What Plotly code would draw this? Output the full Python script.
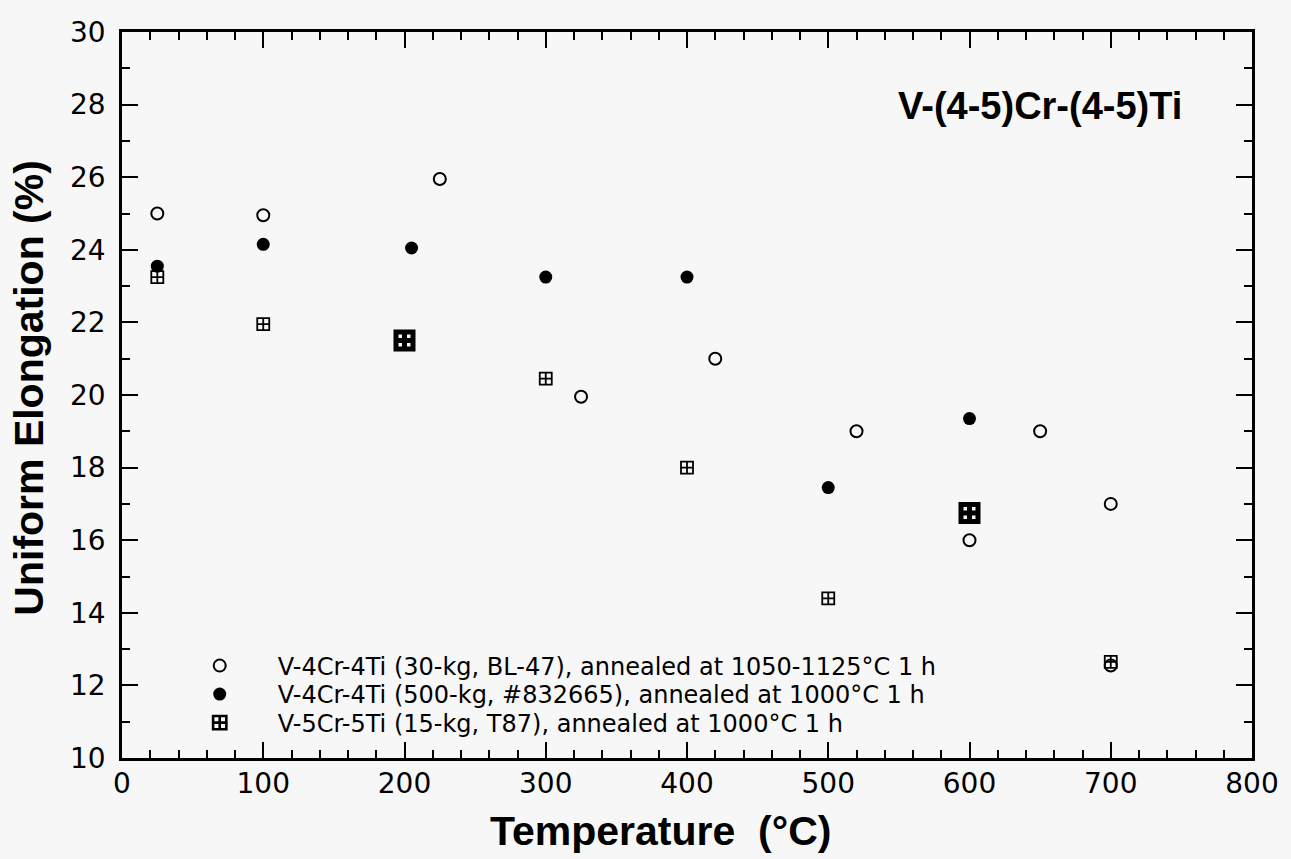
import plotly.graph_objects as go

# ---- data ----
bl47_temp = [25, 100, 225, 325, 420, 520, 600, 650, 700, 700]
bl47_ue = [25.0, 24.95, 25.95, 19.95, 21.0, 19.0, 16.0, 19.0, 17.0, 12.55]

h832665_temp = [25, 100, 205, 300, 400, 500, 600]
h832665_ue = [23.55, 24.15, 24.05, 23.25, 23.25, 17.45, 19.35]

t87_temp = [25, 100, 200, 300, 400, 500, 600, 700]
t87_ue = [23.25, 21.95, 21.5, 20.45, 18.0, 14.4, 16.75, 12.65]

series_names = [
    "V-4Cr-4Ti (30-kg, BL-47), annealed at 1050-1125°C 1 h",
    "V-4Cr-4Ti (500-kg, #832665), annealed at 1000°C 1 h",
    "V-5Cr-5Ti (15-kg, T87), annealed at 1000°C 1 h",
]
x_tick_vals = [0, 100, 200, 300, 400, 500, 600, 700, 800]
y_tick_vals = [10, 12, 14, 16, 18, 20, 22, 24, 26, 28, 30]
alloy_label = "V-(4-5)Cr-(4-5)Ti"
x_title = "Temperature\u00a0\u00a0(°C)"
y_title = "Uniform Elongation (%)"

# ---- styling (not data) ----
t87_line_widths = [1.8, 1.8, 5, 1.8, 1.8, 1.8, 5, 1.8]
t87_sizes = [12, 12, 17, 12, 12, 12, 17, 12]

BG = "#f7f7f7"
FONT = "Liberation Sans, Arial, Helvetica, sans-serif"
FONT_REG = "DejaVu Sans, Liberation Sans, sans-serif"

L, R, T, B = 122, 1260, 32, 758
PW, PH = R - L, B - T

fig = go.Figure()
fig.add_trace(go.Scatter(
    x=bl47_temp, y=bl47_ue, mode="markers", name=series_names[0],
    legend="legend",
    marker=dict(symbol="circle-open", size=12, color="black", opacity=1,
                line=dict(width=2, color="black")),
))
fig.add_trace(go.Scatter(
    x=h832665_temp, y=h832665_ue, mode="markers", name=series_names[1],
    legend="legend2",
    marker=dict(symbol="circle", size=13, color="black", opacity=1,
                line=dict(width=0)),
))
fig.add_trace(go.Scatter(
    x=t87_temp, y=t87_ue, mode="markers", name=series_names[2],
    legend="legend3",
    marker=dict(symbol="square-cross-open", size=t87_sizes, color="black", opacity=1,
                line=dict(width=t87_line_widths, color="black")),
))

axis_common = dict(
    showline=True, linecolor="black", linewidth=2.5, mirror="allticks",
    ticks="inside", tickcolor="black", tickwidth=2, ticklen=16,
    showgrid=False, zeroline=False,
    tickfont=dict(family=FONT_REG, size=28, color="black"),
)

fig.update_xaxes(
    range=[0, 800], tickvals=x_tick_vals,
    minor=dict(dtick=20, ticks="inside", ticklen=8, tickwidth=1.8, tickcolor="black", showgrid=False),
    ticklabelstandoff=-1,
    **axis_common,
)
fig.update_yaxes(
    range=[10, 30], tickvals=y_tick_vals,
    minor=dict(dtick=1, ticks="inside", ticklen=8, tickwidth=1.8, tickcolor="black", showgrid=False),
    ticklabelstandoff=8,
    **axis_common,
)

fig.add_annotation(
    x=650, y=27.95, xref="x", yref="y", text=alloy_label, showarrow=False,
    font=dict(family=FONT, size=38, color="black", weight="bold"),
    xanchor="center", yanchor="middle",
)
fig.add_annotation(
    x=(664 - L) / PW, y=-(831 - B) / PH, xref="paper", yref="paper",
    text=x_title, showarrow=False,
    font=dict(family=FONT, size=41, color="black", weight="bold"),
    xanchor="center", yanchor="middle",
)
fig.add_annotation(
    x=-(L - 28) / PW, y=(B - 388) / PH, xref="paper", yref="paper",
    text=y_title, showarrow=False, textangle=-90,
    font=dict(family=FONT, size=41, color="black", weight="bold"),
    xanchor="center", yanchor="middle",
)


def legend_at(row_y):
    return dict(
        x=(162 - L) / PW, y=(B - row_y) / PH,
        xanchor="left", yanchor="middle",
        bgcolor="rgba(0,0,0,0)", borderwidth=0,
        itemwidth=106,
        font=dict(family=FONT_REG, size=24, color="black"),
    )


fig.update_layout(
    width=1291, height=859,
    margin=dict(l=L, r=1291 - R, t=T, b=859 - B),
    paper_bgcolor=BG, plot_bgcolor=BG,
    showlegend=True,
    legend=legend_at(666),
    legend2=legend_at(694.5),
    legend3=legend_at(723),
)

fig.write_html(
    "out.html",
    config={"displayModeBar": False},
    post_script="document.body.style.margin='0';document.body.style.overflow='hidden';",
)
